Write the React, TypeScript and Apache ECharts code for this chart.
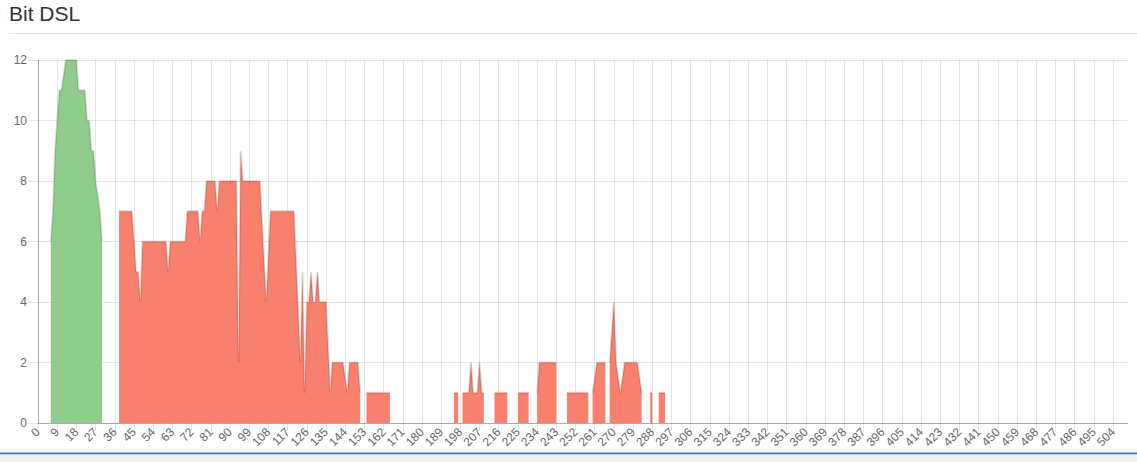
import React, { useEffect, useRef } from "react";
import * as echarts from "echarts";

// x categories: 0 .. 511
const categoryCount = 512;
const categories: string[] = Array.from({ length: categoryCount }, (_, i) => String(i));

// y axis ticks
const yMin = 0;
const yMax = 12;
const yStep = 2;

// green series, starting at index 6
const greenStart = 6;
const greenValues = [6, 7, 9, 10, 11, 11, 11.5, 12, 12, 12, 12, 12, 12, 11, 11, 11, 11, 10, 10, 9, 9, 8, 7.5, 7, 6];

// red series, in segments (start index, values)
const redSeg38 = [
  7, 7, 7, 7, 7, 7, 7, 6, 5, 5, 4, // 38-48
  6, 6, 6, 6, 6, 6, 6, 6, 6, 6, 6, 6, // 49-60
  5, 6, 6, 6, 6, 6, 6, 6, 6, // 61-69
  7, 7, 7, 7, 7, 7, 6, 7, 7, // 70-78
  8, 8, 8, 8, 8, 7, 8, 8, 8, 8, 8, 8, 8, 8, 8, // 79-93
  2, 9, 8, 8, 8, 8, 8, 8, 8, 8, 8, // 94-104
  6.7, 5.3, 4, 5.5, // 105-108
  7, 7, 7, 7, 7, 7, 7, 7, 7, 7, 7, 7, // 109-120
  5.3, 3.7, 2, 5, 1, 4, 4, 5, 4, 4, 5, 4, 4, 4, 4, // 121-135
  2.5, 1, 2, 2, 2, 2, 2, 2, 1.5, 1, 2, 2, 2, 2, 2, 1, // 136-151
];
const redSeg154 = [1, 1, 1, 1, 1, 1, 1, 1, 1, 1, 1, 1];
const redSeg195 = [1, 1, 1];
const redSeg199 = [1, 1, 1, 1, 2, 1, 1, 1, 2, 1, 1];
const redSeg214 = [1, 1, 1, 1, 1, 1, 1];
const redSeg225 = [1, 1, 1, 1, 1, 1];
const redSeg234 = [1, 2, 2, 2, 2, 2, 2, 2, 2, 2];
const redSeg248 = [1, 1, 1, 1, 1, 1, 1, 1, 1, 1, 1];
const redSeg260 = [1, 1.5, 2, 2, 2, 2, 2];
const redSeg268 = [2, 3, 4, 2, 1.5, 1, 1.5, 2, 2, 2, 2, 2, 2, 2, 1.5, 1];
const redSeg287 = [1, 1];
const redSeg291 = [1, 1, 1, 1];

const redSegments: [number, number[]][] = [
  [38, redSeg38],
  [154, redSeg154],
  [195, redSeg195],
  [199, redSeg199],
  [214, redSeg214],
  [225, redSeg225],
  [234, redSeg234],
  [248, redSeg248],
  [260, redSeg260],
  [268, redSeg268],
  [287, redSeg287],
  [291, redSeg291],
];

function buildSeries(segs: [number, number[]][]): (number | null)[] {
  const out: (number | null)[] = new Array(categoryCount).fill(null);
  segs.forEach(([start, vals]) => {
    vals.forEach((v, i) => {
      out[start + i] = v;
    });
  });
  return out;
}

const FONT = "'Helvetica Neue', Helvetica, Arial, 'Liberation Sans', sans-serif";
const GRID_COLOR = "rgba(0,0,0,0.1)";
const AXIS_COLOR = "rgba(0,0,0,0.25)";

export default function App() {
  const ref = useRef<HTMLDivElement>(null);

  useEffect(() => {
    if (!ref.current) return;
    const chart = echarts.init(ref.current, undefined, { renderer: "svg" });
    const greenData = buildSeries([[greenStart, greenValues]]);
    const redData = buildSeries(redSegments);

    chart.setOption({
      animation: false,
      backgroundColor: "#ffffff",
      textStyle: { fontFamily: FONT },
      title: {
        text: "Bit DSL",
        left: 9,
        top: 3,
        padding: 0,
        textStyle: { fontSize: 21, fontWeight: "normal", color: "#333333", fontFamily: FONT },
      },
      graphic: [
        {
          type: "line",
          shape: { x1: 9, y1: 33.5, x2: 1137, y2: 33.5 },
          style: { stroke: "#e5e5e5", lineWidth: 1 },
          silent: true,
        },
        {
          type: "rect",
          shape: { x: 0, y: 452.5, width: 1137, height: 2 },
          style: { fill: "#337ab7" },
          silent: true,
        },
        {
          type: "rect",
          shape: { x: 0, y: 454.5, width: 1137, height: 8 },
          style: { fill: "#f0f0f0" },
          silent: true,
        },
      ],
      grid: { left: 38, right: 9, top: 60, bottom: 39, containLabel: false },
      xAxis: {
        type: "category",
        data: categories,
        boundaryGap: false,
        axisLine: { show: true, lineStyle: { color: AXIS_COLOR, width: 1 } },
        axisTick: { show: true, interval: 8, length: 8, lineStyle: { color: GRID_COLOR } },
        axisLabel: {
          interval: 8,
          rotate: 45,
          margin: 7,
          fontSize: 12,
          color: "#666666",
          fontFamily: FONT,
          hideOverlap: false,
        },
        splitLine: { show: true, interval: 8, lineStyle: { color: GRID_COLOR, width: 1 } },
      },
      yAxis: {
        type: "value",
        min: yMin,
        max: yMax,
        interval: yStep,
        axisLine: { show: true, lineStyle: { color: AXIS_COLOR, width: 1 } },
        axisTick: { show: true, length: 10, lineStyle: { color: GRID_COLOR } },
        axisLabel: { margin: 11, fontSize: 12, color: "#666666", fontFamily: FONT },
        splitLine: { show: true, lineStyle: { color: GRID_COLOR, width: 1 } },
      },
      series: [
        {
          name: "green",
          type: "line",
          data: greenData,
          showSymbol: false,
          symbol: "none",
          connectNulls: false,
          lineStyle: { color: "rgba(0,0,0,0.13)", width: 2 },
          areaStyle: { color: "#90cc8c", opacity: 1 },
          itemStyle: { color: "#90cc8c" },
          emphasis: { disabled: true },
          silent: true,
        },
        {
          name: "red",
          type: "line",
          data: redData,
          showSymbol: false,
          symbol: "none",
          connectNulls: false,
          lineStyle: { color: "rgba(0,0,0,0.13)", width: 2 },
          areaStyle: { color: "#f9806d", opacity: 1 },
          itemStyle: { color: "#f9806d" },
          emphasis: { disabled: true },
          silent: true,
        },
      ],
    });

    return () => {
      chart.dispose();
    };
  }, []);

  return (
    <div
      style={{
        position: "fixed",
        left: 0,
        top: 0,
        width: 1137,
        height: 462,
        background: "#ffffff",
      }}
    >
      <div ref={ref} style={{ width: 1137, height: 462 }} />
    </div>
  );
}
